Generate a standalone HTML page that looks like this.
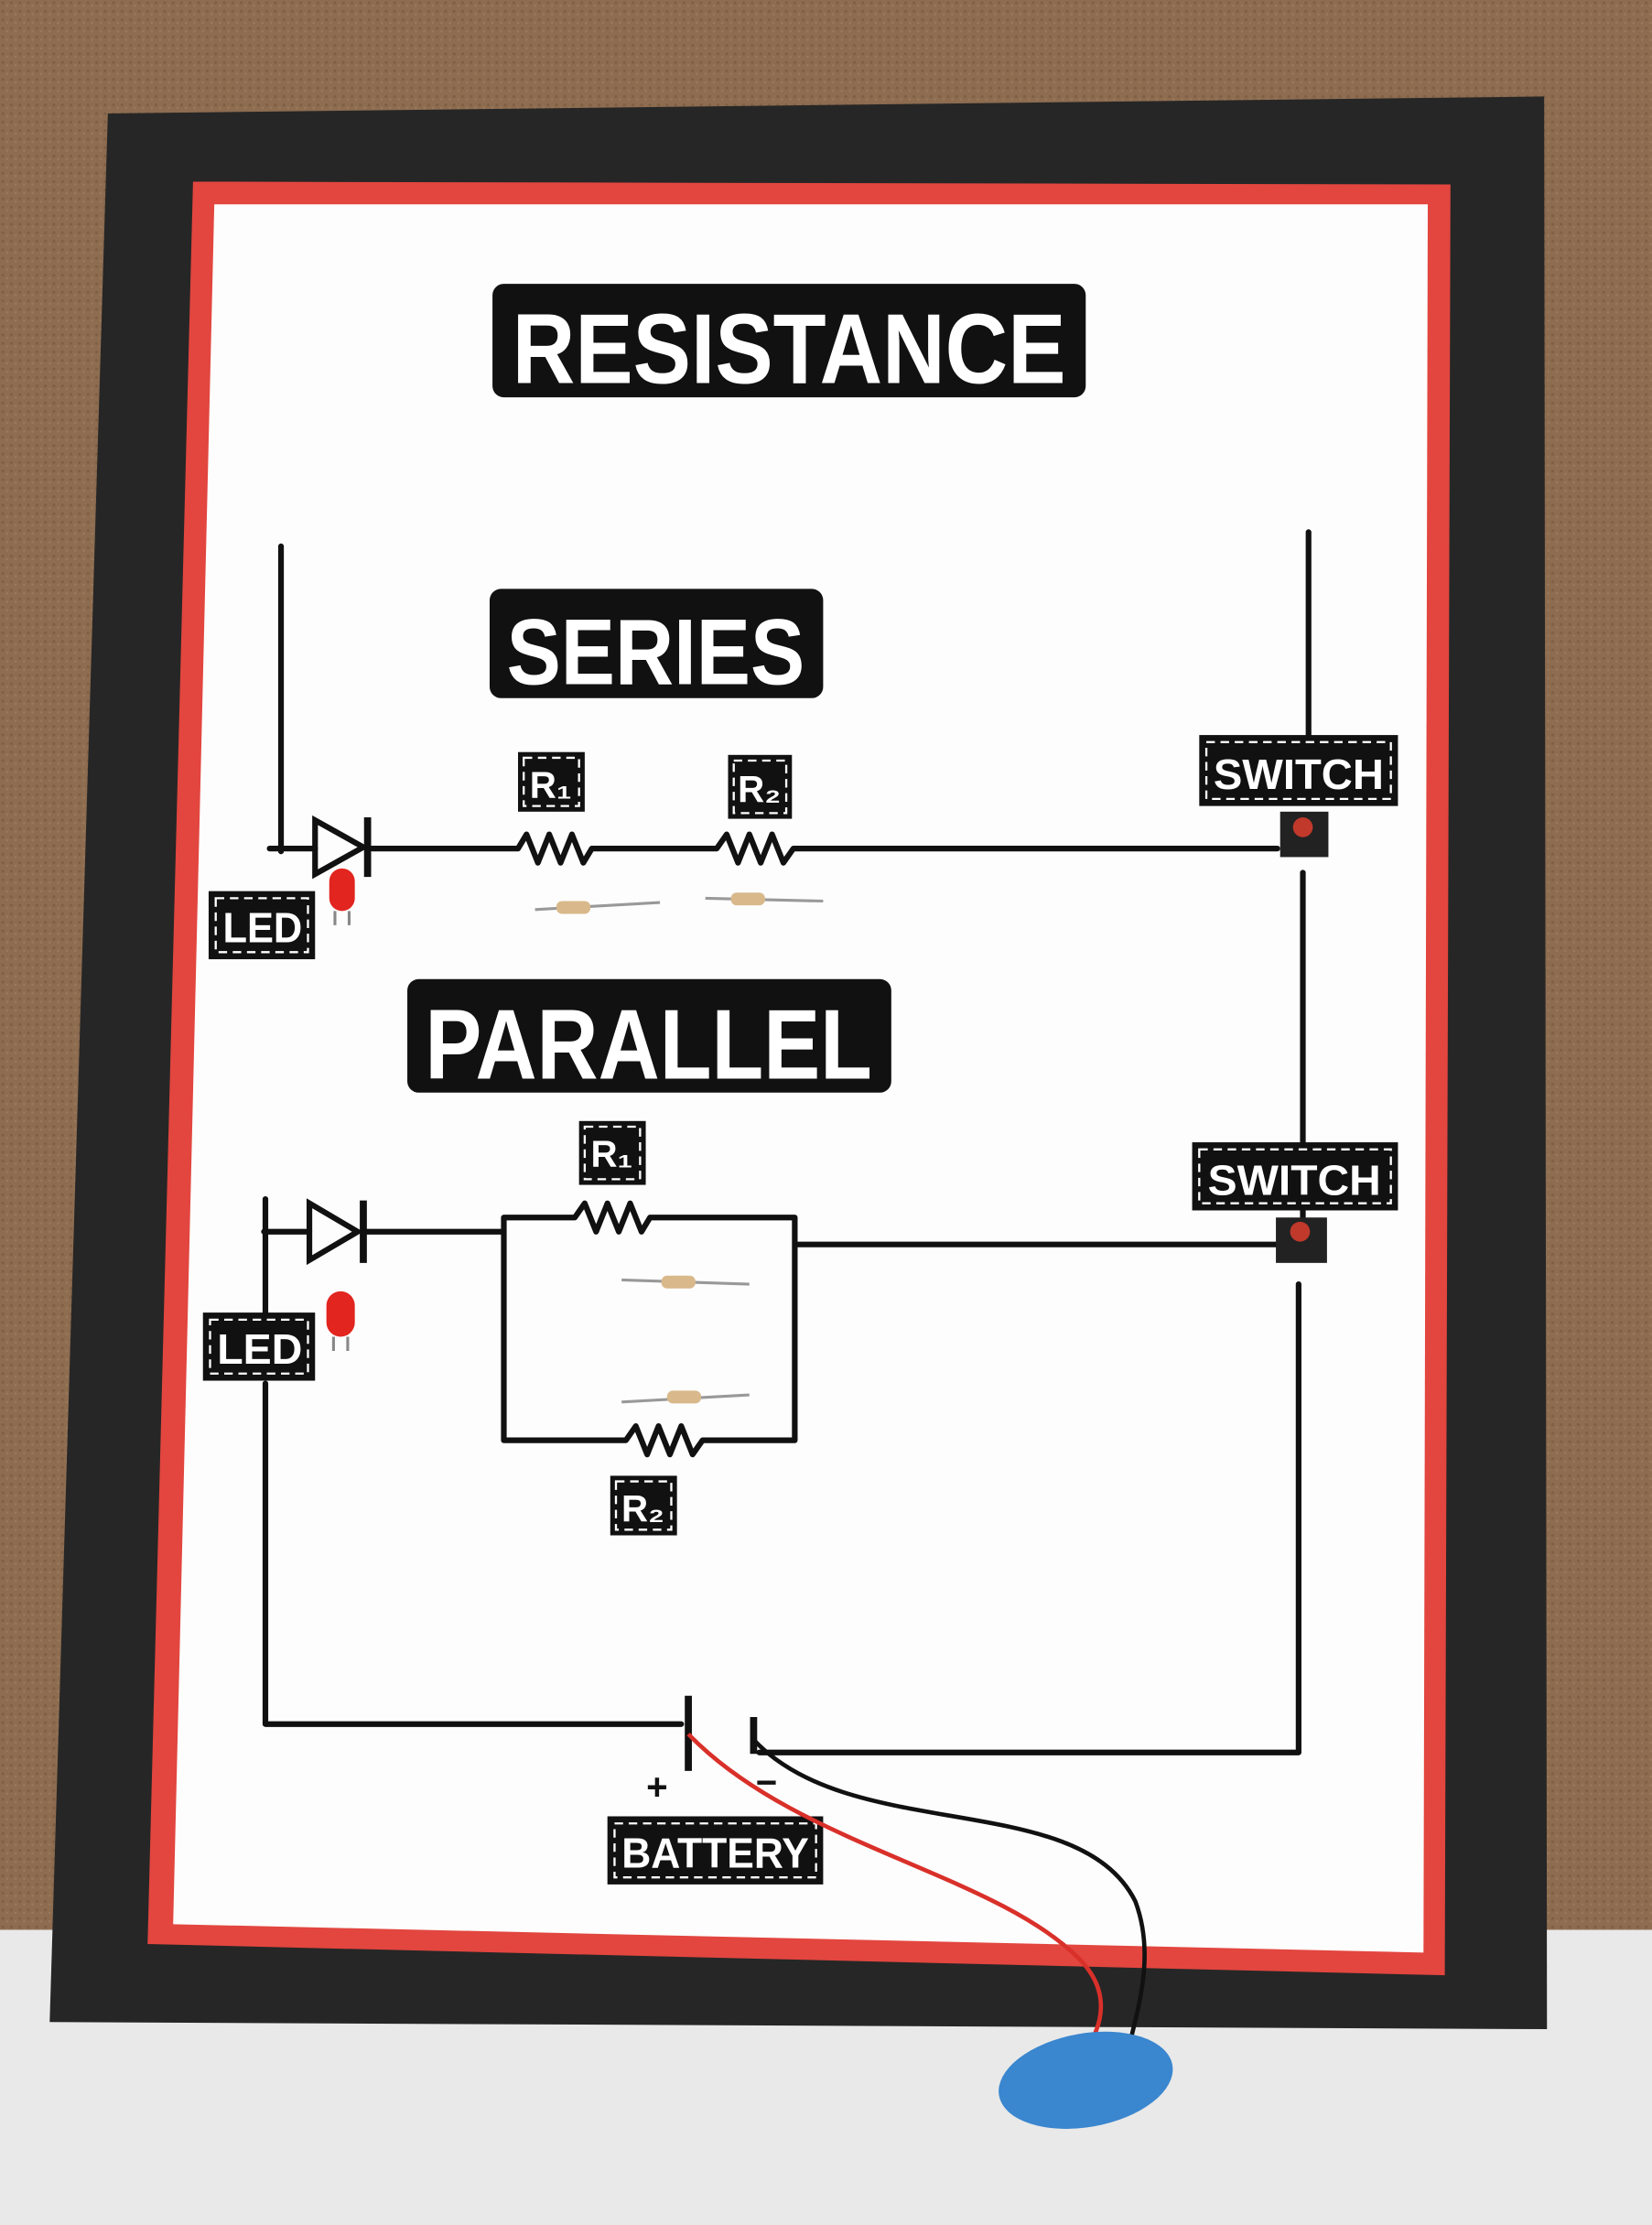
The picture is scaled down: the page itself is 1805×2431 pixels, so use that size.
<!DOCTYPE html>
<html><head><meta charset="utf-8"><style>
html,body{margin:0;padding:0;width:1805px;height:2431px;overflow:hidden;background:#8b6b50}
svg{display:block}
.t{font-family:"Liberation Sans",sans-serif;font-weight:bold;fill:#fff}
.w{stroke:#111;stroke-width:4;fill:none;stroke-linecap:round;stroke-linejoin:round}
.lbl{fill:#111}
.d{stroke:#fff;stroke-width:1.5;stroke-dasharray:6 4;fill:none}
</style></head><body>
<svg width="1805" height="2431" viewBox="0 0 1164 1568" preserveAspectRatio="none">
<defs>
<pattern id="cork" width="6" height="6" patternUnits="userSpaceOnUse">
<rect width="6" height="6" fill="#8d6c50"/><circle cx="2" cy="2" r="1" fill="#7e5f45"/><circle cx="5" cy="4" r="0.8" fill="#9a7a5c"/>
</pattern>
</defs>
<rect width="1164" height="1568" fill="url(#cork)"/>
<rect x="0" y="1360" width="1164" height="208" fill="#e9e9e9"/>
<!-- board -->
<polygon points="76,80 1088,68 1090,1430 35,1425" fill="#262626"/>
<polygon points="136,128 1022,130 1018,1392 104,1370" fill="#e2463f"/>
<polygon points="151,144 1006,144 1003,1376 122,1356" fill="#fdfdfd"/>
<!-- titles -->
<rect x="347" y="200" width="418" height="80" rx="8" class="lbl"/>
<text x="556" y="270" class="t" font-size="70" text-anchor="middle" textLength="390" lengthAdjust="spacingAndGlyphs">RESISTANCE</text>
<rect x="345" y="415" width="235" height="77" rx="8" class="lbl"/>
<text x="462" y="482" class="t" font-size="66" text-anchor="middle" textLength="210" lengthAdjust="spacingAndGlyphs">SERIES</text>
<rect x="287" y="690" width="341" height="80" rx="8" class="lbl"/>
<text x="457" y="760" class="t" font-size="70" text-anchor="middle" textLength="315" lengthAdjust="spacingAndGlyphs">PARALLEL</text>
<!-- series circuit -->
<path class="w" d="M198,385 V600 M190,598 H222 M262,598 H365 l6,-10 l8,20 l8,-20 l8,20 l8,-20 l8,20 l6,-10 H505 l7,-10 l8,20 l8,-20 l8,20 l8,-20 l8,20 l7,-10 H900"/>
<polygon points="222,578 222,616 256,597" fill="none" stroke="#111" stroke-width="4"/>
<line x1="259" y1="576" x2="259" y2="618" stroke="#111" stroke-width="5"/>
<path class="w" d="M922,375 V520 M918,615 V858"/>
<!-- parallel circuit -->
<path class="w" d="M187,845 V970 M187,975 V1215 H480 M186,868 H218 M258,868 H355 M355,858 H405 l7,-10 l8,20 l8,-20 l8,20 l8,-20 l8,20 l6,-10 H560 V1015 H495 l-7,10 l-8,-20 l-8,20 l-8,-20 l-8,20 l-8,-20 l-7,10 H355 Z M560,877 H900 M915,905 V1235 H535"/>
<polygon points="218,848 218,888 252,868" fill="none" stroke="#111" stroke-width="4"/>
<line x1="256" y1="846" x2="256" y2="890" stroke="#111" stroke-width="5"/>
<!-- battery plates -->
<line x1="485" y1="1195" x2="485" y2="1248" stroke="#111" stroke-width="5"/>
<line x1="531" y1="1210" x2="531" y2="1236" stroke="#111" stroke-width="5"/>
<text x="463" y="1268" font-family="Liberation Sans" font-weight="bold" font-size="26" text-anchor="middle" fill="#111">+</text>
<text x="540" y="1265" font-family="Liberation Sans" font-weight="bold" font-size="26" text-anchor="middle" fill="#111">−</text>
<!-- labels -->
<g>
<rect x="845" y="518" width="140" height="50" class="lbl"/><rect x="850" y="523" width="130" height="40" class="d"/>
<text x="915" y="556" class="t" font-size="30" text-anchor="middle" textLength="120" lengthAdjust="spacingAndGlyphs">SWITCH</text>
<rect x="840" y="805" width="145" height="48" class="lbl"/><rect x="845" y="810" width="135" height="38" class="d"/>
<text x="912" y="842" class="t" font-size="30" text-anchor="middle" textLength="122" lengthAdjust="spacingAndGlyphs">SWITCH</text>
<rect x="147" y="628" width="75" height="48" class="lbl"/><rect x="152" y="633" width="65" height="38" class="d"/>
<text x="185" y="664" class="t" font-size="30" text-anchor="middle" textLength="56" lengthAdjust="spacingAndGlyphs">LED</text>
<rect x="143" y="925" width="79" height="48" class="lbl"/><rect x="148" y="930" width="69" height="38" class="d"/>
<text x="183" y="961" class="t" font-size="30" text-anchor="middle" textLength="60" lengthAdjust="spacingAndGlyphs">LED</text>
<rect x="365" y="530" width="47" height="42" class="lbl"/><rect x="369" y="534" width="39" height="34" class="d"/>
<text x="388" y="562" class="t" font-size="26" text-anchor="middle">R₁</text>
<rect x="513" y="532" width="45" height="45" class="lbl"/><rect x="517" y="536" width="37" height="37" class="d"/>
<text x="535" y="565" class="t" font-size="26" text-anchor="middle">R₂</text>
<rect x="408" y="790" width="47" height="45" class="lbl"/><rect x="412" y="794" width="39" height="37" class="d"/>
<text x="431" y="822" class="t" font-size="26" text-anchor="middle">R₁</text>
<rect x="430" y="1040" width="47" height="42" class="lbl"/><rect x="434" y="1044" width="39" height="34" class="d"/>
<text x="453" y="1072" class="t" font-size="26" text-anchor="middle">R₂</text>
<rect x="428" y="1280" width="152" height="48" class="lbl"/><rect x="433" y="1285" width="142" height="38" class="d"/>
<text x="504" y="1316" class="t" font-size="30" text-anchor="middle" textLength="132" lengthAdjust="spacingAndGlyphs">BATTERY</text>
</g>
<!-- switches -->
<g>
<rect x="902" y="572" width="34" height="32" fill="#222"/><circle cx="918" cy="583" r="7" fill="#c0392b"/>
<rect x="899" y="858" width="36" height="32" fill="#222"/><circle cx="916" cy="868" r="7" fill="#c0392b"/>
</g>
<!-- LEDs -->
<g>
<rect x="232" y="612" width="18" height="30" rx="9" fill="#e2251f"/><path d="M236,642 V652 M246,642 V652" stroke="#888" stroke-width="2"/>
<rect x="230" y="910" width="20" height="32" rx="10" fill="#e2251f"/><path d="M235,942 V952 M245,942 V952" stroke="#888" stroke-width="2"/>
</g>
<!-- resistors -->
<g stroke="#999" stroke-width="2">
<line x1="377" y1="641" x2="465" y2="636"/><rect x="392" y="635" width="24" height="9" rx="4" fill="#d9b98b" stroke="none"/>
<line x1="497" y1="633" x2="580" y2="635"/><rect x="515" y="629" width="24" height="9" rx="4" fill="#d9b98b" stroke="none"/>
<line x1="438" y1="902" x2="528" y2="905"/><rect x="466" y="899" width="24" height="9" rx="4" fill="#d9b98b" stroke="none"/>
<line x1="438" y1="988" x2="528" y2="983"/><rect x="470" y="980" width="24" height="9" rx="4" fill="#d9b98b" stroke="none"/>
</g>
<!-- battery wires & clip -->
<path d="M485,1222 C560,1300 700,1320 760,1380 C785,1405 775,1430 765,1445" stroke="#d9302a" stroke-width="3" fill="none"/>
<path d="M531,1226 C600,1300 760,1260 800,1340 C815,1380 800,1420 795,1445" stroke="#111" stroke-width="3" fill="none"/>
<ellipse cx="765" cy="1466" rx="62" ry="33" fill="#3a86cf" transform="rotate(-10 765 1466)"/>
</svg>
</body></html>
